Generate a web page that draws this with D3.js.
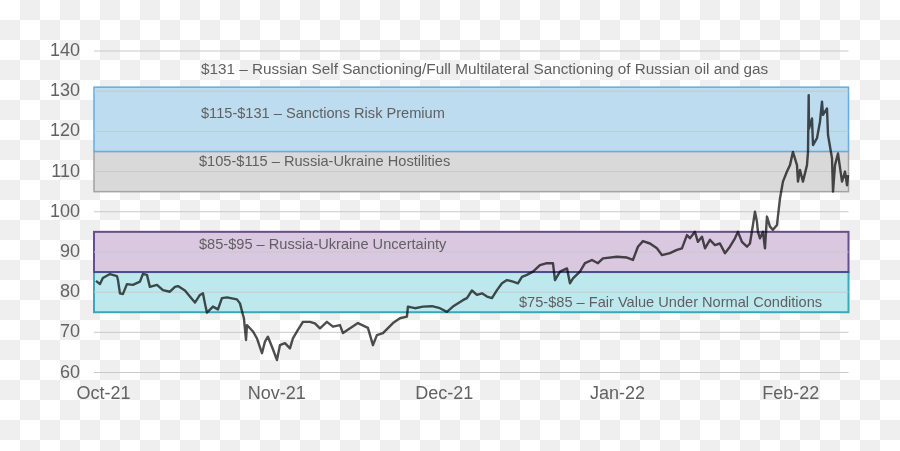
<!DOCTYPE html>
<html><head><meta charset="utf-8">
<script src="https://cdn.jsdelivr.net/npm/d3@7"></script>
<style>html,body{margin:0;padding:0;background:#fff;}svg{display:block;}</style>
</head><body>
<svg id="chart" width="900" height="451"></svg>
<script>
// ---------------- data ----------------
const dates = [
"2021-09-29 15:20","2021-09-30 08:40","2021-09-30 21:00","2021-10-02 03:30","2021-10-03 09:30","2021-10-03 14:00",
"2021-10-03 22:30","2021-10-04 11:00","2021-10-05 04:30","2021-10-06 06:00","2021-10-07 12:30","2021-10-08 01:00",
"2021-10-08 18:30","2021-10-09 07:00","2021-10-10 13:30","2021-10-11 15:00","2021-10-12 21:00","2021-10-13 18:50",
"2021-10-14 07:40","2021-10-15 13:40","2021-10-16 11:00","2021-10-17 08:40","2021-10-18 06:00","2021-10-18 19:00",
"2021-10-19 03:30","2021-10-19 12:00","2021-10-20 14:00","2021-10-21 11:30","2021-10-22 04:30","2021-10-23 02:00",
"2021-10-24 21:00","2021-10-25 10:00","2021-10-25 23:00","2021-10-26 03:00","2021-10-26 12:00","2021-10-26 16:00",
"2021-10-27 05:00","2021-10-27 18:00","2021-10-28 11:00","2021-10-29 08:30","2021-10-29 21:30","2021-10-30 10:00",
"2021-10-31 03:30","2021-11-01 01:00","2021-11-01 13:40","2021-11-02 11:15","2021-11-03 08:40","2021-11-03 21:30",
"2021-11-04 19:00","2021-11-05 16:30","2021-11-06 22:30","2021-11-07 20:00","2021-11-08 17:30","2021-11-09 23:30",
"2021-11-11 01:30","2021-11-12 07:30","2021-11-12 20:30","2021-11-15 12:45","2021-11-17 07:40","2021-11-18 05:15",
"2021-11-18 22:20","2021-11-20 00:15","2021-11-21 19:10","2021-11-23 01:10","2021-11-24 07:15","2021-11-24 11:30",
"2021-11-25 17:45","2021-11-27 04:00","2021-11-28 18:40","2021-11-30 05:00","2021-12-01 11:00","2021-12-02 12:45",
"2021-12-04 07:40","2021-12-05 01:00","2021-12-05 22:20","2021-12-06 20:00","2021-12-07 17:30","2021-12-08 15:00",
"2021-12-09 12:30","2021-12-10 10:00","2021-12-11 07:30","2021-12-12 05:00","2021-12-13 06:40","2021-12-14 04:00",
"2021-12-14 21:20","2021-12-15 18:45","2021-12-16 20:40","2021-12-18 02:40","2021-12-19 08:40","2021-12-20 10:30",
"2021-12-20 19:10","2021-12-21 16:40","2021-12-22 22:50","2021-12-23 11:30","2021-12-24 00:30","2021-12-25 06:30",
"2021-12-26 04:00","2021-12-27 10:00","2021-12-28 11:45","2021-12-29 09:20","2021-12-31 21:20","2022-01-02 16:20",
"2022-01-03 18:00","2022-01-04 15:30","2022-01-05 13:00","2022-01-06 19:10","2022-01-08 01:10","2022-01-08 22:35",
"2022-01-10 09:00","2022-01-11 15:00","2022-01-12 12:30","2022-01-13 10:00","2022-01-13 22:50","2022-01-14 20:20",
"2022-01-15 09:20","2022-01-16 02:30","2022-01-16 15:30","2022-01-17 12:45","2022-01-18 10:20","2022-01-19 07:40",
"2022-01-20 05:15","2022-01-21 02:40","2022-01-22 00:15","2022-01-22 13:10","2022-01-23 06:15","2022-01-24 03:50",
"2022-01-24 16:40","2022-01-25 05:30","2022-01-25 14:10","2022-01-25 22:50","2022-01-26 03:00","2022-01-26 11:45",
"2022-01-27 00:30","2022-01-27 09:10","2022-01-27 17:45","2022-01-28 06:40","2022-01-28 19:30","2022-01-29 12:45",
"2022-01-30 01:40","2022-01-30 14:25","2022-01-31 07:40","2022-01-31 20:40","2022-02-01 09:20","2022-02-02 02:40",
"2022-02-02 07:00","2022-02-02 15:40","2022-02-03 04:20","2022-02-03 21:40","2022-02-04 02:00","2022-02-04 05:00",
"2022-02-04 06:15","2022-02-04 19:10","2022-02-04 23:30","2022-02-05 16:35","2022-02-06 05:30","2022-02-06 14:10",
"2022-02-06 18:30","2022-02-07 11:40","2022-02-07 16:00","2022-02-08 09:10","2022-02-08 13:30","2022-02-08 22:00",
"2022-02-09 10:50","2022-02-10 04:05","2022-02-10 17:00","2022-02-11 01:40","2022-02-11 06:00"
];
const prices = [
82.8,82.0,83.5,84.5,84.0,83.0,
79.7,79.5,82.0,81.8,82.6,84.5,
84.3,81.3,81.8,80.5,80.1,81.3,
81.5,80.4,78.9,77.4,79.3,79.7,
77.2,74.9,76.4,75.7,78.5,78.7,
78.2,77.2,74.3,73.5,68.1,71.8,
71.0,70.2,68.5,64.8,67.7,68.9,
66.4,63.1,66.8,67.3,66.0,68.5,
70.6,72.6,72.6,72.2,71.0,72.6,
71.4,71.8,69.8,72.3,71.1,66.8,
69.3,69.8,72.3,73.5,73.9,76.4,
76.0,76.4,76.5,76.0,75.1,76.4,
78.0,78.5,80.4,79.3,79.7,78.9,
78.5,80.5,82.2,83.0,82.6,82.2,
83.8,84.3,85.1,86.7,87.2,87.2,
83.0,85.1,85.9,82.2,83.4,85.1,
87.2,88.0,87.2,88.4,88.8,88.6,
88.0,91.3,92.7,92.1,90.9,89.2,
89.7,90.5,90.9,94.2,93.4,95.0,
92.5,93.8,90.9,93.0,91.7,92.1,
89.7,91.3,93.4,95.0,92.5,91.3,
92.1,96.7,100.0,97.5,95.0,93.4,
95.0,90.9,98.8,96.3,95.5,96.7,
103.3,107.5,110.0,111.6,114.9,111.6,
107.5,110.4,107.5,111.6,114.9,129.0,
120.7,123.2,116.6,118.3,122.4,127.4,
124.1,125.7,119.1,113.3,105.0,111.6,
114.5,107.5,110.0,106.6,109.1
];
const yTicks = [60,70,80,90,100,110,120,130,140];
const monthDates = ["2021-10-01 00:00","2021-11-01 00:00","2021-12-01 00:00","2022-01-01 00:00","2022-02-01 00:00"];
const monthLabels = ["Oct-21","Nov-21","Dec-21","Jan-22","Feb-22"];
const bandLow  = [75, 85, 105, 115];
const bandHigh = [85, 95, 115, 131];
const bandLabels = [
  "$75-$85 – Fair Value Under Normal Conditions",
  "$85-$95 – Russia-Ukraine Uncertainty",
  "$105-$115 – Russia-Ukraine Hostilities",
  "$115-$131 – Sanctions Risk Premium"
];
const topLabel = "$131 – Russian Self Sanctioning/Full Multilateral Sanctioning of Russian oil and gas";

// ---------------- drawing ----------------
const parse = d3.timeParse("%Y-%m-%d %H:%M");
const svg = d3.select("#chart");
const FONT = "'Liberation Sans', Arial, sans-serif";

// transparency checkerboard background
const defs = svg.append("defs");
const pat = defs.append("pattern").attr("id","checker").attr("width",40).attr("height",40)
  .attr("patternUnits","userSpaceOnUse");
pat.append("rect").attr("width",40).attr("height",40).attr("fill","#ffffff");
pat.append("rect").attr("x",20).attr("y",0).attr("width",20).attr("height",20).attr("fill","#efefef");
pat.append("rect").attr("x",0).attr("y",20).attr("width",20).attr("height",20).attr("fill","#efefef");
svg.append("rect").attr("width",900).attr("height",451).attr("fill","url(#checker)");

const x = d3.scaleTime()
  .domain([parse("2021-09-29 07:00"), parse("2022-02-11 08:00")])
  .range([94, 848.5]);
const y = d3.scaleLinear().domain([60,140]).range([372.5, 51]);

// bands
const bandFill   = ["#bde9ee","#dac7e0","#d9d9d9","#bddcef"];
const bandStroke = ["#38a9b5","#65508c","#a3a3a3","#68abdf"];
const bandWidth  = [2, 2, 1.5, 1.5];
const bandG = svg.append("g");
bandLow.forEach((lo,i)=>{
  bandG.append("rect")
    .attr("x", x.range()[0]).attr("width", x.range()[1]-x.range()[0])
    .attr("y", y(bandHigh[i])).attr("height", y(lo)-y(bandHigh[i]))
    .attr("fill", bandFill[i]).attr("stroke", bandStroke[i]).attr("stroke-width", bandWidth[i]);
});
// shared border between purple/teal
svg.append("line").attr("x1",x.range()[0]).attr("x2",x.range()[1])
  .attr("y1",y(85)).attr("y2",y(85)).attr("stroke","#4e4c8e").attr("stroke-width",2);

// gridlines
svg.append("g").selectAll("line").data(yTicks).join("line")
  .attr("x1", x.range()[0]).attr("x2", x.range()[1])
  .attr("y1", d=>y(d)).attr("y2", d=>y(d))
  .attr("stroke","#c9c9c9").attr("stroke-width",1);

// y labels
svg.append("g").selectAll("text").data(yTicks).join("text")
  .attr("x", 80).attr("y", d=>y(d)-1)
  .attr("text-anchor","end").attr("dominant-baseline","central")
  .attr("font-family",FONT).attr("font-size",18).attr("fill","#626262")
  .text(d=>d);

// x labels
svg.append("g").selectAll("text").data(monthDates).join("text")
  .attr("x", d=>x(parse(d))).attr("y", 399)
  .attr("text-anchor","middle")
  .attr("font-family",FONT).attr("font-size",18).attr("fill","#626262")
  .text((d,i)=>monthLabels[i]);

// price line
const pts = dates.map((d,i)=>({t:parse(d), v:prices[i]}));
svg.append("path").datum(pts)
  .attr("d", d3.line().x(d=>x(d.t)).y(d=>y(d.v)))
  .attr("fill","none").attr("stroke","#4f4f4f").attr("stroke-width",2.4)
  .attr("stroke-linejoin","round")
  .style("mix-blend-mode","multiply");

// band labels
const labelPos = [[519, 307],[199, 249],[199, 166],[201, 118]];
bandLabels.forEach((t,i)=>{
  svg.append("text").attr("x",labelPos[i][0]).attr("y",labelPos[i][1])
    .attr("font-family",FONT).attr("font-size",14.6).attr("fill","#606060").text(t);
});
svg.append("text").attr("x",201).attr("y",74)
  .attr("font-family",FONT).attr("font-size",15.3).attr("fill","#606060").text(topLabel);
</script>
</body></html>
